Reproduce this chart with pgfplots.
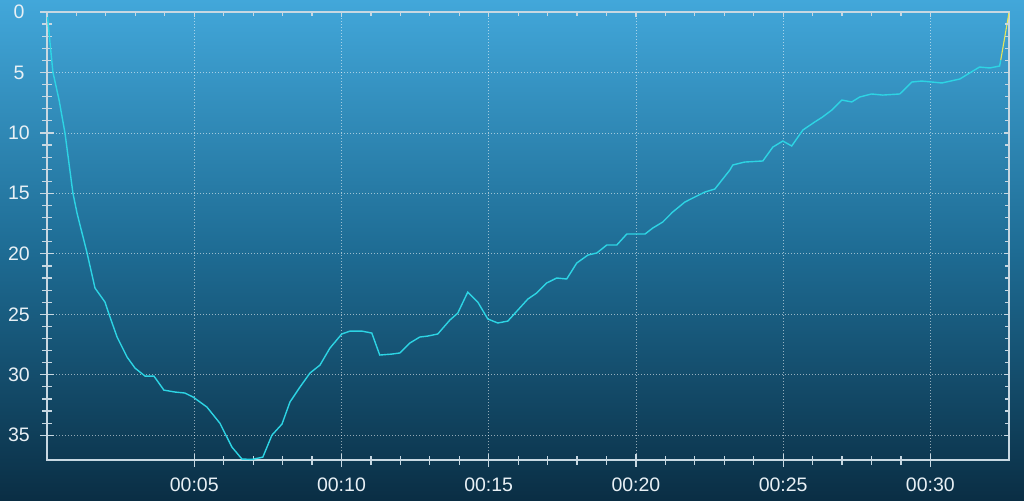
\documentclass[border=0pt]{standalone}
\usepackage{fontspec}
\setmainfont{Liberation Sans}
\usepackage{pgfplots}
\pgfplotsset{compat=1.18}
\definecolor{bgtop}{RGB}{66,167,218}
\definecolor{bgmid}{RGB}{30,108,148}
\definecolor{bgbot}{RGB}{10,46,68}
\definecolor{axcol}{RGB}{200,216,226}
\definecolor{linecyan}{RGB}{45,212,228}
\definecolor{lineyellow}{RGB}{230,230,90}
\definecolor{labcol}{RGB}{232,240,245}
\begin{document}
\begin{tikzpicture}
\shade[top color=bgtop, bottom color=bgbot, middle color=bgmid] (0,0) rectangle (1024bp,501bp);
\path[use as bounding box] (0,0) rectangle (1024bp,501bp);
\begin{axis}[at={(47bp,41bp)}, anchor=south west, scale only axis, width=962bp, height=448bp,
 xmin=0, xmax=32.67, ymin=0, ymax=37.05, y dir=reverse,
 xtick={5,10,15,20,25,30}, xticklabels={00:05,00:10,00:15,00:20,00:25,00:30},
 minor x tick num=4,
 ytick={0,5,...,35}, minor y tick num=4,
 axis line style={axcol, line width=1.5bp},
 tick style={axcol, line width=1.2bp},
 tick align=center, major tick length=13bp, minor tick length=9bp,
 xtick pos=bottom, ytick pos=left,
 grid=major, major grid style={white, opacity=0.55, line width=0.8bp, dash pattern=on 1bp off 2bp},
 ticklabel style={font=\fontsize{19.5bp}{21bp}\selectfont, text=labcol},
 /pgf/number format/assume math mode=true,
 xticklabel style={anchor=center, yshift=-18bp},
 yticklabel style={anchor=center, xshift=-21.5bp},
 clip=false]
\addplot[linecyan, line width=1.4bp] coordinates {
(0,0) (0.20,4.96) (0.41,7.28) (0.61,10.0) (0.88,14.97) (1.02,16.63) (1.36,19.93)
(1.63,22.83) (1.97,23.99) (2.14,25.23) (2.38,26.88) (2.72,28.54) (2.99,29.45)
(3.33,30.11) (3.63,30.11) (3.97,31.27) (4.35,31.43) (4.68,31.51) (4.96,31.84)
(5.43,32.67) (5.87,34.0) (6.28,35.98) (6.62,36.97) (6.96,37.0) (7.33,36.81)
(7.64,34.99) (7.98,34.08) (8.25,32.26) (8.59,31.02) (8.93,29.86) (9.27,29.2)
(9.61,27.79) (10.01,26.63) (10.29,26.39) (10.69,26.39) (11.03,26.55) (11.30,28.37)
(11.71,28.29) (11.98,28.2) (12.32,27.38) (12.66,26.88) (12.93,26.8) (13.27,26.63)
(13.68,25.48) (13.95,24.9) (14.29,23.16) (14.63,23.99) (14.97,25.39) (15.31,25.72)
(15.65,25.56) (15.99,24.65) (16.33,23.74) (16.63,23.24) (16.97,22.41) (17.31,22.0)
(17.65,22.08) (17.99,20.76) (18.37,20.1) (18.67,19.93) (19.01,19.27) (19.35,19.27)
(19.69,18.36) (20.31,18.36) (20.57,17.87) (20.91,17.37) (21.25,16.54) (21.66,15.72)
(22.0,15.3) (22.34,14.89) (22.68,14.64) (23.19,13.07) (23.29,12.65) (23.69,12.41)
(24.31,12.32) (24.65,11.17) (24.99,10.67) (25.29,11.08) (25.67,9.76) (26.07,9.1)
(26.34,8.68) (26.65,8.11) (26.99,7.28) (27.33,7.44) (27.60,7.03) (28.0,6.78)
(28.38,6.87) (28.96,6.78) (29.37,5.79) (29.71,5.71) (30.39,5.87) (31.0,5.54)
(31.33,5.05) (31.67,4.55) (32.01,4.63) (32.35,4.47) (32.39,3.97)
};
\addplot[lineyellow, line width=1.1bp] coordinates {(32.39,3.97) (32.67,0.05)};
\end{axis}
\begin{axis}[at={(47bp,41bp)}, anchor=south west, scale only axis, width=962bp, height=448bp,
 xmin=0, xmax=32.67, ymin=0, ymax=37.05, y dir=reverse,
 axis line style={draw=none},
 xtick={0,5,...,30}, minor x tick num=4, ytick={0,5,...,35}, minor y tick num=4,
 xticklabels={}, yticklabels={},
 tick style={axcol, line width=1.2bp},
 tick align=inside, major tick length=5bp, minor tick length=4bp,
 xtick pos=top, ytick pos=right]
\end{axis}
\end{tikzpicture}
\end{document}
